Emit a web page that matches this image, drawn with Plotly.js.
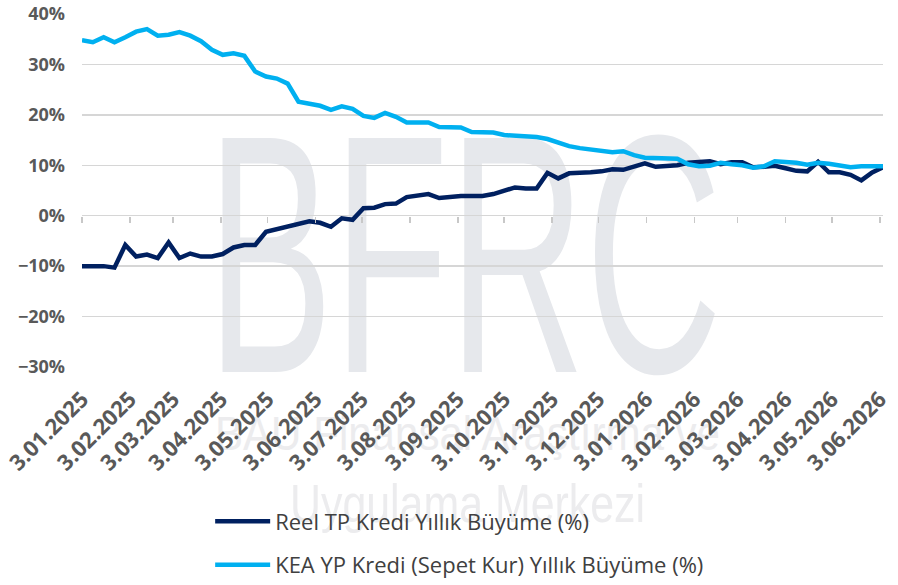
<!DOCTYPE html>
<html>
<head>
<meta charset="utf-8">
<script src="https://cdn.plot.ly/plotly-3.0.1.min.js"></script>
<style>html,body{margin:0;padding:0;background:#fff;}#chart{width:898px;height:585px;}</style>
</head>
<body>
<div id="chart"></div>
<script>
const dates = [
"2025-01-03","2025-01-10","2025-01-17","2025-01-24","2025-01-31","2025-02-07","2025-02-14","2025-02-21","2025-02-28",
"2025-03-07","2025-03-14","2025-03-21","2025-03-28","2025-04-04","2025-04-11","2025-04-18","2025-04-25",
"2025-05-02","2025-05-09","2025-05-16","2025-05-23","2025-05-30","2025-06-06","2025-06-13","2025-06-20","2025-06-27",
"2025-07-04","2025-07-11","2025-07-18","2025-07-25","2025-08-01","2025-08-08","2025-08-15","2025-08-22","2025-08-29",
"2025-09-05","2025-09-12","2025-09-19","2025-09-26","2025-10-03","2025-10-10","2025-10-17","2025-10-24","2025-10-31",
"2025-11-07","2025-11-14","2025-11-21","2025-11-28","2025-12-05","2025-12-12","2025-12-19","2025-12-26",
"2026-01-02","2026-01-09","2026-01-16","2026-01-23","2026-01-30","2026-02-06","2026-02-13","2026-02-20","2026-02-27",
"2026-03-06","2026-03-13","2026-03-20","2026-03-27","2026-04-03","2026-04-10","2026-04-17","2026-04-24",
"2026-05-01","2026-05-08","2026-05-15","2026-05-22","2026-05-29","2026-06-05"
];
const reelTP = [
-10.0,-10.0,-10.0,-10.3,-5.8,-8.1,-7.7,-8.4,-5.3,-8.4,-7.5,-8.1,-8.1,-7.6,-6.3,-5.8,-5.8,
-3.2,-2.7,-2.1,-1.6,-1.1,-1.4,-2.2,-0.5,-0.8,1.5,1.6,2.3,2.4,3.7,3.9,4.3,3.5,3.8,
3.9,3.9,3.9,4.3,5.0,5.6,5.4,5.4,8.5,7.4,8.4,8.4,8.6,8.8,9.2,9.1,9.8,
10.4,9.7,9.8,10.0,10.5,10.6,10.8,10.2,10.6,10.6,9.6,9.7,9.9,9.4,8.9,8.8,10.7,
8.6,8.6,8.1,7.0,8.6,9.6
];
const keaYP = [
34.8,34.4,35.4,34.4,35.4,36.5,37.0,35.7,35.9,36.4,35.7,34.6,32.9,31.9,32.2,31.7,28.6,
27.6,27.2,26.2,22.6,22.2,21.8,21.0,21.7,21.2,19.8,19.4,20.4,19.6,18.5,18.5,18.5,17.6,17.6,
17.5,16.6,16.5,16.5,16.0,15.9,15.9,15.6,15.2,14.5,13.8,13.4,13.2,12.8,12.6,12.8,12.0,
11.5,11.4,11.3,11.3,10.2,9.8,9.9,10.5,10.2,10.0,9.5,9.8,10.8,10.7,10.5,10.1,10.5,
10.3,9.9,9.6,9.8,9.8,9.8
];
const tickDates = ["2025-01-03","2025-02-03","2025-03-03","2025-04-03","2025-05-03","2025-06-03","2025-07-03","2025-08-03","2025-09-03",
"2025-10-03","2025-11-03","2025-12-03","2026-01-03","2026-02-03","2026-03-03","2026-04-03","2026-05-03","2026-06-03"];
const tickLabels = ["3.01.2025","3.02.2025","3.03.2025","3.04.2025","3.05.2025","3.06.2025","3.07.2025","3.08.2025","3.09.2025",
"3.10.2025","3.11.2025","3.12.2025","3.01.2026","3.02.2026","3.03.2026","3.04.2026","3.05.2026","3.06.2026"];
const seriesNames = ["Reel TP Kredi Yıllık Büyüme (%)","KEA YP Kredi (Sepet Kur) Yıllık Büyüme (%)"];

const xRange = ["2025-01-03","2026-06-05"];

const wm = '<svg xmlns="http://www.w3.org/2000/svg" width="898" height="585" viewBox="0 0 898 585">' +
  '<text x="207" y="372" font-family="Liberation Sans" font-size="340" fill="#e6e8ec" textLength="515" lengthAdjust="spacingAndGlyphs">BFRC</text>' +
  '<text x="215" y="450" font-family="Liberation Sans" font-size="48" fill="#ececee" textLength="505" lengthAdjust="spacingAndGlyphs">BAU Finansal Araştırma ve</text>' +
  '<text x="290" y="522" font-family="Liberation Sans" font-size="54" fill="#ececee" textLength="355" lengthAdjust="spacingAndGlyphs">Uygulama Merkezi</text>' +
  '</svg>';
const wmSrc = 'data:image/svg+xml;charset=utf-8,' + encodeURIComponent(wm);

const traces = [
  {x: dates, y: reelTP, name: seriesNames[0], type: "scatter", mode: "lines", legendgroup: "a",
   xaxis: "x", line: {color: "#002060", width: 4.5}},
  {x: dates, y: keaYP, name: seriesNames[1], type: "scatter", mode: "lines", legendgroup: "b",
   xaxis: "x2", line: {color: "#00B0F0", width: 4.5}}
];

const layout = {
  width: 898, height: 585,
  margin: {l: 82, r: 15, t: 14, b: 218, autoexpand: false},
  paper_bgcolor: "#ffffff",
  plot_bgcolor: "rgba(0,0,0,0)",
  showlegend: true,
  legend: {x: 0.16, xanchor: "left", y: -0.378, yanchor: "top", orientation: "v", itemwidth: 55,
           tracegroupgap: 12, font: {family: "Open Sans", size: 22, color: "#404040"},
           bgcolor: "rgba(0,0,0,0)"},
  xaxis: {type: "date", range: xRange, tickmode: "array", tickvals: tickDates, ticktext: tickLabels,
          tickangle: -45, showgrid: false, zeroline: false, showline: false, ticks: "", automargin: false,
          ticklabelstandoff: 14,
          tickfont: {family: "Open Sans", size: 22, color: "#595959", weight: 700}},
  xaxis2: {type: "date", range: xRange, overlaying: "x", anchor: "free", position: 30/70, side: "bottom",
           tickmode: "array", tickvals: tickDates, showticklabels: false, ticks: "outside", automargin: false,
           ticklen: 6, tickwidth: 1.5, tickcolor: "#c8c8c8", showgrid: false, zeroline: false, showline: false},
  yaxis: {range: [-30, 40], dtick: 10, ticksuffix: "%", showgrid: true, gridcolor: "#d6d6d6", gridwidth: 1.5,
          zeroline: false, showline: false, ticks: "", ticklabelstandoff: 16, automargin: false,
          tickfont: {family: "Open Sans", size: 18, color: "#595959", weight: 700}},
  images: [{source: wmSrc, xref: "paper", yref: "paper", x: -82/801, y: 1 + 14/353,
            sizex: 898/801, sizey: 585/353, xanchor: "left", yanchor: "top", sizing: "stretch", layer: "below"}]
};

Plotly.newPlot("chart", traces, layout, {displayModeBar: false, staticPlot: true});
</script>
</body>
</html>
